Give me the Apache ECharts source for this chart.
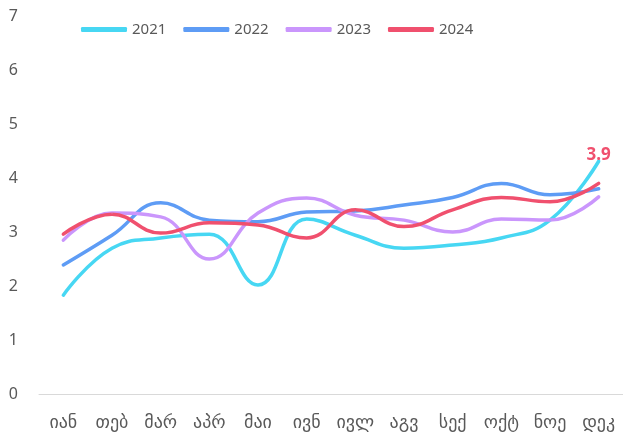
<!DOCTYPE html>
<html>
<head>
<meta charset="utf-8">
<script src="https://cdn.jsdelivr.net/npm/echarts@6/dist/echarts.min.js"></script>
<style>
  html, body { margin: 0; padding: 0; background: #fff; }
  #chart { width: 623px; height: 437px; }
</style>
</head>
<body>
<div id="chart"></div>
<script>
// months (Georgian short names)
const months = ['იან', 'თებ', 'მარ', 'აპრ', 'მაი', 'ივნ', 'ივლ', 'აგვ', 'სექ', 'ოქტ', 'ნოე', 'დეკ']

const y2021 = [1.83, 2.70, 2.89, 2.96, 2.02, 3.24, 2.94, 2.70, 2.76, 2.89, 3.22, 4.31]
const y2022 = [2.39, 2.94, 3.54, 3.22, 3.19, 3.37, 3.39, 3.50, 3.64, 3.90, 3.69, 3.80]
const y2023 = [2.85, 3.35, 3.28, 2.50, 3.35, 3.63, 3.31, 3.22, 3.00, 3.24, 3.22, 3.65]
const y2024 = [2.96, 3.33, 2.98, 3.17, 3.13, 2.89, 3.41, 3.10, 3.41, 3.64, 3.56, 3.90]

const colors = ['#47d7f3', '#5e9cf5', '#ca96fc', '#f0506e']
const font = '"Noto Sans", "DejaVu Sans", sans-serif'

function line (name, data, color, last) {
  return {
    name: name,
    type: 'line',
    smooth: 0.45,
    data: data.map((v, i) => {
      if (last && i === data.length - 1) {
        return {
          value: v,
          label: {
            show: true,
            position: 'top',
            distance: 19,
            formatter: '{c}',
            color: color,
            fontSize: 17,
            fontWeight: 'bold',
            fontFamily: font,
          },
        }
      }
      return v
    }),
    showSymbol: true,
    symbol: 'circle',
    symbolSize: 1,
    lineStyle: { width: 3.5, color: color, cap: 'round' },
    itemStyle: { color: color },
    emphasis: { disabled: true },
  }
}

const chart = echarts.init(document.getElementById('chart'))
chart.setOption({
  animation: false,
  color: colors,
  legend: {
    top: 17,
    left: 76,
    icon: 'roundRect',
    itemWidth: 46,
    itemHeight: 5,
    itemGap: 17,
    textStyle: { color: '#595959', fontSize: 15, fontFamily: font },
    data: ['2021', '2022', '2023', '2024'],
  },
  grid: { left: 39, right: -4, top: 16, bottom: 43 },
  xAxis: {
    type: 'category',
    data: months,
    boundaryGap: true,
    axisLine: { lineStyle: { color: '#d9d9d9', width: 1 } },
    axisTick: { show: false },
    axisLabel: { color: '#595959', fontSize: 18, fontFamily: font, margin: 20, interval: 0 },
  },
  yAxis: {
    type: 'value',
    min: 0,
    max: 7,
    interval: 1,
    axisLine: { show: false },
    axisTick: { show: false },
    splitLine: { show: false },
    axisLabel: { color: '#595959', fontSize: 16, fontFamily: font, margin: 21 },
  },
  series: [
    line('2021', y2021, colors[0]),
    line('2022', y2022, colors[1]),
    line('2023', y2023, colors[2]),
    line('2024', y2024, colors[3], true),
  ],
})
</script>
</body>
</html>
